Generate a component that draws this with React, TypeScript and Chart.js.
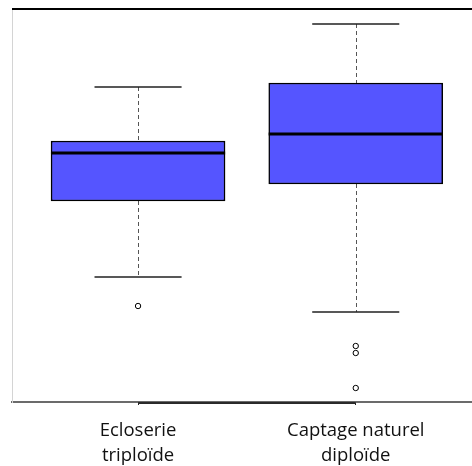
import { useEffect, useRef } from "react";
import { Chart, registerables } from "chart.js";

Chart.register(...registerables);

const categories: string[][] = [["Ecloserie", "triploïde"], ["Captage naturel", "diploïde"]];
const whiskerLow = [12.5, 9.0];
const q1 = [20.1, 21.8];
const median = [24.9, 26.8];
const q3 = [26.1, 31.9];
const whiskerHigh = [31.5, 37.8];
const outliers: number[][] = [[9.6], [5.6, 4.9, 1.4]];
const yMin = 0;
const yMax = 39.3;

const BOX_HALF = 0.4; // in category units
const CAP_HALF = 0.2;

const boxPlugin = {
  id: "boxExtras",
  beforeDatasetsDraw(chart: any) {
    const { ctx, scales } = chart;
    const x = scales.x;
    const y = scales.y;
    ctx.save();
    for (let i = 0; i < categories.length; i++) {
      const cx = Math.round(x.getPixelForValue(i)) + 0.5;
      ctx.setLineDash([4, 3]);
      ctx.strokeStyle = "#555";
      ctx.lineWidth = 1;
      ctx.beginPath();
      ctx.moveTo(cx, y.getPixelForValue(whiskerHigh[i]));
      ctx.lineTo(cx, y.getPixelForValue(q3[i]));
      ctx.moveTo(cx, y.getPixelForValue(q1[i]));
      ctx.lineTo(cx, y.getPixelForValue(whiskerLow[i]));
      ctx.stroke();
      ctx.setLineDash([]);
      ctx.strokeStyle = "#222";
      ctx.lineWidth = 1.5;
      ctx.beginPath();
      const l = x.getPixelForValue(i - CAP_HALF);
      const r = x.getPixelForValue(i + CAP_HALF);
      ctx.moveTo(l, y.getPixelForValue(whiskerHigh[i]));
      ctx.lineTo(r, y.getPixelForValue(whiskerHigh[i]));
      ctx.moveTo(l, y.getPixelForValue(whiskerLow[i]));
      ctx.lineTo(r, y.getPixelForValue(whiskerLow[i]));
      ctx.stroke();
    }
    ctx.restore();
  },
  afterDatasetsDraw(chart: any) {
    const { ctx, scales } = chart;
    const x = scales.x;
    const y = scales.y;
    ctx.save();
    ctx.strokeStyle = "#000";
    ctx.lineWidth = 3;
    for (let i = 0; i < categories.length; i++) {
      const l = x.getPixelForValue(i - BOX_HALF);
      const r = x.getPixelForValue(i + BOX_HALF);
      const my = y.getPixelForValue(median[i]);
      ctx.beginPath();
      ctx.moveTo(l, my);
      ctx.lineTo(r, my);
      ctx.stroke();
    }
    ctx.restore();
  },
  afterDraw(chart: any) {
    const { ctx, chartArea, scales } = chart;
    const x = scales.x;
    ctx.save();
    ctx.strokeStyle = "#000";
    ctx.lineWidth = 2;
    ctx.beginPath();
    ctx.moveTo(chartArea.left, chartArea.top);
    ctx.lineTo(chartArea.right, chartArea.top);
    ctx.stroke();
    ctx.strokeStyle = "#2a2a2a";
    ctx.lineWidth = 2;
    ctx.beginPath();
    ctx.moveTo(x.getPixelForValue(0), chartArea.bottom + 1);
    ctx.lineTo(x.getPixelForValue(categories.length - 1), chartArea.bottom + 1);
    ctx.stroke();
    ctx.restore();
  },
};

export default function App() {
  const ref = useRef<HTMLCanvasElement | null>(null);

  useEffect(() => {
    if (!ref.current) return;
    Chart.defaults.font.family = "'Open Sans', sans-serif";
    const boxData = categories.map((_, i) => ({ x: i, y: [q1[i], q3[i]] }));
    const outlierData: { x: number; y: number }[] = [];
    outliers.forEach((arr, i) => arr.forEach((v) => outlierData.push({ x: i, y: v })));

    const chart = new Chart(ref.current, {
      type: "bar",
      data: {
        datasets: [
          {
            type: "bar",
            label: "box",
            data: boxData as any,
            backgroundColor: "#5555ff",
            borderColor: "#000",
            borderWidth: 1.5,
            borderSkipped: false,
            barThickness: 174,
          } as any,
          {
            type: "scatter",
            label: "outliers",
            data: outlierData,
            pointRadius: 2.7,
            pointBackgroundColor: "#fff",
            pointBorderColor: "#000",
            pointBorderWidth: 1,
          } as any,
        ],
      },
      options: {
        animation: false,
        responsive: true,
        maintainAspectRatio: false,
        layout: { autoPadding: false, padding: { left: 12, top: 9, right: 0, bottom: 0 } },
        plugins: { legend: { display: false }, tooltip: { enabled: false } },
        scales: {
          x: {
            type: "linear",
            min: -0.579,
            max: 1.534,
            offset: false,
            afterBuildTicks: (scale: any) => {
              scale.ticks = categories.map((_, i) => ({ value: i }));
            },
            afterFit: (scale: any) => {
              scale.height = 64;
            },
            ticks: {
              autoSkip: false,
              maxRotation: 0,
              padding: 14,
              color: "#111",
              font: { size: 18.5, lineHeight: 1.32 },
              callback: (v: any) => categories[v as number] ?? "",
            },
            grid: {
              display: true,
              offset: false,
              drawOnChartArea: false,
              drawTicks: true,
              tickLength: 3,
              color: "#222",
            },
            border: { display: true, color: "#6b6b6b", width: 2 },
          } as any,
          y: {
            type: "linear",
            min: yMin,
            max: yMax,
            ticks: { display: false },
            grid: { display: true, drawOnChartArea: false, drawTicks: false },
            border: { display: true, color: "#d4d4d4", width: 1 },
          },
        },
      },
      plugins: [boxPlugin],
    });
    return () => chart.destroy();
  }, []);

  return (
    <div style={{ position: "fixed", left: 0, top: 0, width: 472, height: 466, background: "#fff" }}>
      <canvas ref={ref} />
    </div>
  );
}
